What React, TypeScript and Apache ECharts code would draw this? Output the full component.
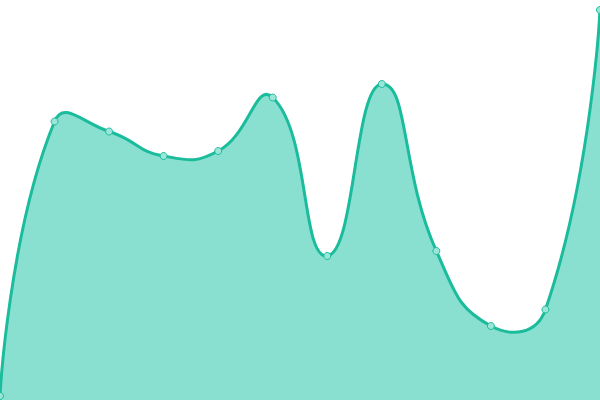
import { useEffect, useRef } from 'react';
import * as echarts from 'echarts';

const categories = ['1', '2', '3', '4', '5', '6', '7', '8', '9', '10', '11', '12'];
const values = [4, 278.5, 268.5, 244, 249, 302.5, 144, 316, 149, 74, 90.5, 390];

const LINE = '#1abc9c';
const AREA = '#89e0d0';
const SMOOTH = 0.5;

// old-style (echarts 4) smooth curve: control points along (next - prev), no extremum clamp
function smoothPath(pts: number[][]) {
  const n = pts.length;
  const cps: number[][] = [];
  for (let i = 0; i < n; i++) {
    const p = pts[i];
    if (i === 0 || i === n - 1) {
      cps.push([p[0], p[1]]);
      continue;
    }
    const prev = pts[i - 1];
    const next = pts[i + 1];
    const vx = (next[0] - prev[0]) * SMOOTH;
    const vy = (next[1] - prev[1]) * SMOOTH;
    let d0 = Math.hypot(p[0] - prev[0], p[1] - prev[1]);
    let d1 = Math.hypot(p[0] - next[0], p[1] - next[1]);
    const sum = d0 + d1;
    if (sum) {
      d0 /= sum;
      d1 /= sum;
    }
    cps.push([p[0] - vx * d0, p[1] - vy * d0]);
    cps.push([p[0] + vx * d1, p[1] + vy * d1]);
  }
  let d = `M${pts[0][0]},${pts[0][1]}`;
  for (let i = 0; i < n - 1; i++) {
    const c0 = cps[2 * i];
    const c1 = cps[2 * i + 1];
    const p = pts[i + 1];
    d += ` C${c0[0]},${c0[1]} ${c1[0]},${c1[1]} ${p[0]},${p[1]}`;
  }
  return d;
}

export default function App() {
  const ref = useRef<HTMLDivElement>(null);

  useEffect(() => {
    const chart = echarts.init(ref.current!, null, { renderer: 'svg' });
    chart.setOption({
      animation: false,
      grid: { left: 0, right: 0, top: 0, bottom: 0 },
      xAxis: { type: 'category', data: categories, boundaryGap: false, show: false },
      yAxis: { type: 'value', min: 0, max: 400, show: false },
      series: [
        {
          type: 'custom',
          data: values.map((v, i) => [i, v]),
          encode: { x: 0, y: 1 },
          silent: true,
          renderItem: (params: any, api: any) => {
            if (params.dataIndex !== 0) return null;
            const pts = values.map((v, i) => api.coord([i, v]));
            const line = smoothPath(pts);
            const base = api.coord([0, 0])[1];
            const last = pts[pts.length - 1];
            const area = `${line} L${last[0]},${base} L${pts[0][0]},${base} Z`;
            return {
              type: 'group',
              children: [
                { type: 'path', shape: { pathData: area }, style: { fill: AREA, stroke: 'none' } },
                {
                  type: 'path',
                  shape: { pathData: line },
                  style: { fill: 'none', stroke: LINE, lineWidth: 3 },
                },
              ],
            };
          },
        },
        {
          type: 'line',
          data: values,
          symbol: 'circle',
          symbolSize: 7,
          lineStyle: { width: 0, opacity: 0 },
          itemStyle: { color: '#9be6d8', borderColor: LINE, borderWidth: 1 },
          z: 3,
        },
      ],
    });
    return () => chart.dispose();
  }, []);

  return <div ref={ref} style={{ position: 'fixed', left: 0, top: 0, width: 600, height: 400 }} />;
}
